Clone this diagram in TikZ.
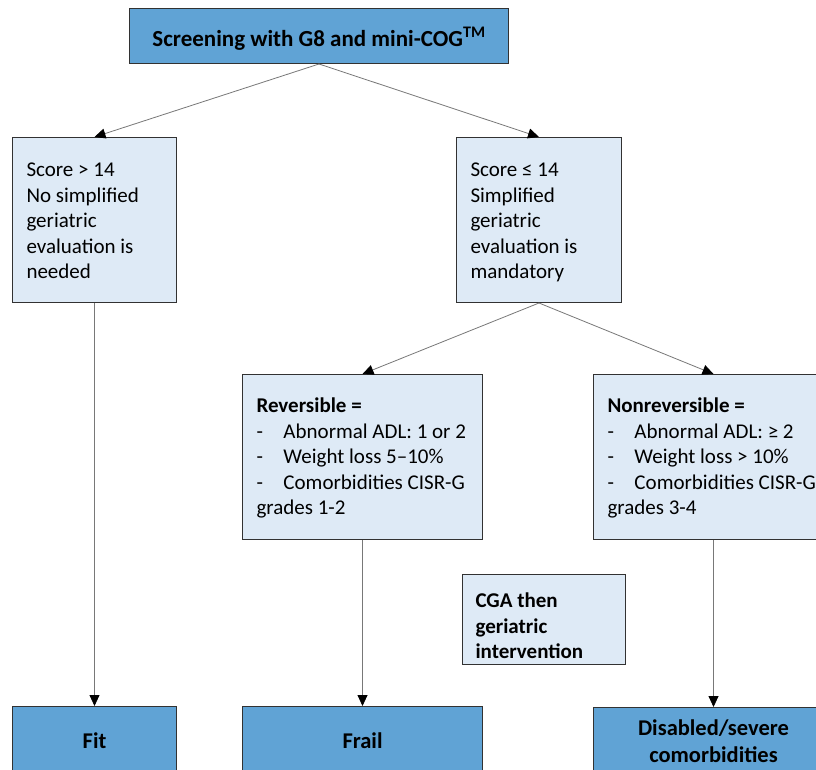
\documentclass[tikz,border=0pt]{standalone}
\usepackage{fontspec}
\setmainfont{Carlito}
\usetikzlibrary{arrows.meta}
\definecolor{darkfill}{RGB}{96,163,213}
\definecolor{lightfill}{RGB}{222,234,246}
\definecolor{edgecol}{RGB}{50,50,50}
\definecolor{conncol}{RGB}{120,120,120}
\newcommand\lbtext[4]{\begin{minipage}[c][#2][t]{#1}\fontsize{21}{25.5}\selectfont\raggedright\vspace*{#3}\strut#4\end{minipage}}
\newcommand\dbtext[4]{\begin{minipage}[c][#2][t]{#1}\fontsize{22.5}{27}\selectfont\bfseries\centering\vspace*{#3}\strut#4\end{minipage}}
\newcommand\itm[1]{\makebox[27pt][l]{-}#1}
\tikzset{
  lbox/.style={draw=edgecol, fill=lightfill, line width=1pt, inner xsep=14pt, inner ysep=0pt, anchor=north west},
  dbox/.style={draw=edgecol, fill=darkfill, line width=1pt, inner sep=0pt, anchor=north west},
  conn/.style={draw=conncol, line width=0.8pt, -{Triangle[length=11pt,width=10pt,color=black]}}
}
\begin{document}
\begin{tikzpicture}[x=1pt,y=-1pt]
\clip (0,0) rectangle (816,769);
\fill[white] (0,0) rectangle (816,769);
% boxes
\node[dbox] (top) at (129,8) {\dbtext{379pt}{55pt}{18.6pt}{\fontsize{23}{27}\selectfont Screening with G8 and mini-COG\textsuperscript{TM}}};
\node[lbox] (fitq) at (12,137) {\lbtext{136pt}{165pt}{21.15pt}{Score > 14\\No simplified\\geriatric\\evaluation is\\needed}};
\node[lbox] (evalq) at (456,137) {\lbtext{137pt}{165pt}{21.15pt}{Score ≤ 14\\Simplified\\geriatric\\evaluation is\\mandatory}};
\node[lbox] (rev) at (242,374) {\lbtext{212pt}{165pt}{20.15pt}{\textbf{Reversible =}\\\itm{Abnormal ADL: 1 or 2}\\\itm{Weight loss 5–10\%}\\\itm{Comorbidities CISR-G}\\grades 1-2}};
\node[lbox] (nonrev) at (593,374) {\lbtext{212pt}{165pt}{20.15pt}{\textbf{Nonreversible =}\\\itm{Abnormal ADL: ≥ 2}\\\itm{Weight loss > 10\%}\\\itm{Comorbidities CISR-G}\\grades 3-4}};
\node[lbox, inner xsep=13pt] (cga) at (462,574) {\lbtext{137pt}{90pt}{15.15pt}{\textbf{CGA then}\\\textbf{geriatric}\\\textbf{intervention}}};
\node[dbox] (fit) at (12,706) {\dbtext{164pt}{90pt}{23.1pt}{Fit}};
\node[dbox] (frail) at (242,706) {\dbtext{240pt}{90pt}{23.1pt}{Frail}};
\node[dbox] (dis) at (593,707) {\dbtext{240pt}{90pt}{9.1pt}{Disabled/severe\\comorbidities}};
% connectors
\draw[conn] (top.south) -- (fitq.north);
\draw[conn] (top.south) -- (evalq.north);
\draw[conn] (evalq.south) -- (rev.north);
\draw[conn] (evalq.south) -- (nonrev.north);
\draw[conn] (fitq.south) -- (fit.north);
\draw[conn] (rev.south) -- (frail.north);
\draw[conn] (nonrev.south) -- (dis.north);
\end{tikzpicture}
\end{document}
